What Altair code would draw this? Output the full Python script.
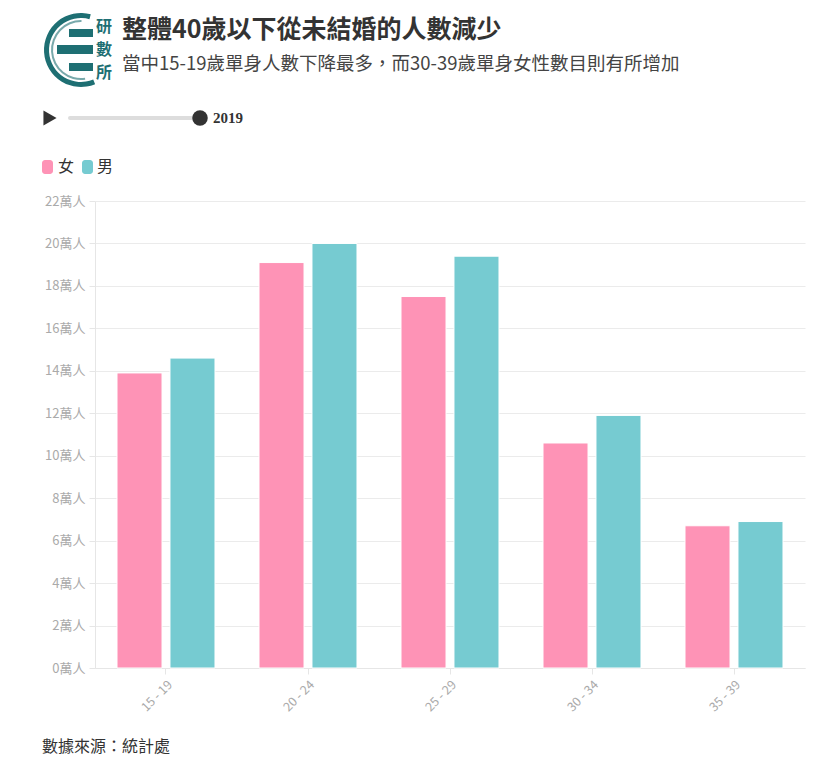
import altair as alt
import pandas as pd

ages = ["15 - 19", "20 - 24", "25 - 29", "30 - 34", "35 - 39"]
female = [13.9, 19.1, 17.5, 10.6, 6.7]
male = [14.6, 20.0, 19.4, 11.9, 6.9]
sexes = ["女", "男"]
colors = ["#fe93b6", "#76cbd1"]
y_ticks = list(range(0, 23, 2))

rows = []
for a, f, m in zip(ages, female, male):
    rows.append({"age": a, "sex": "女", "value": f})
    rows.append({"age": a, "sex": "男", "value": m})
df = pd.DataFrame(rows)

FONT = "Noto Sans CJK TC"
W, H = 710, 467

bars = alt.Chart(df).mark_bar(stroke="white", strokeWidth=1).encode(
    x=alt.X("age:N", sort=ages, title=None,
            scale=alt.Scale(paddingInner=0.31, paddingOuter=0.155),
            axis=alt.Axis(labelAngle=-45, labelColor="#aaaaaa", labelFontSize=12.5,
                          labelFont=FONT, tickColor="#e6e6e6", tickSize=6,
                          domainColor="#e6e6e6", labelPadding=4, grid=False)),
    xOffset=alt.XOffset("sex:N", sort=sexes,
                        scale=alt.Scale(paddingInner=0.15, paddingOuter=0)),
    y=alt.Y("value:Q", title=None,
            scale=alt.Scale(domain=[0, 22], nice=False),
            axis=alt.Axis(values=y_ticks, labelExpr="datum.value + '萬人'",
                          labelColor="#aaaaaa", labelFontSize=13, labelFont=FONT,
                          tickColor="#e6e6e6", tickSize=6, domainColor="#e6e6e6",
                          gridColor="#ebebeb", labelPadding=4)),
    color=alt.Color("sex:N", sort=sexes,
                    scale=alt.Scale(domain=sexes, range=colors), legend=None),
)

def txt(text, x, y, size, color="#333333", weight="normal", font=FONT, align="left"):
    return alt.Chart(pd.DataFrame({"t": [text]})).mark_text(
        align=align, baseline="middle", fontSize=size, fontWeight=weight,
        font=font, color=color
    ).encode(text="t:N", x=alt.value(x), y=alt.value(y))

title = txt("整體40歲以下從未結婚的人數減少", 27, -171, 25, "#333333", "bold")
subtitle = txt("當中15-19歲單身人數下降最多，而30-39歲單身女性數目則有所增加", 27, -137, 18.5, "#444444")
footer = txt("數據來源：統計處", -53, 546, 16, "#333333")
leg_f = txt("女", -37, -34, 16, "#333333")
leg_m = txt("男", 2, -34, 16, "#333333")
year = txt("2019", 118, -83, 15, "#333333", "bold", "Liberation Serif")

sw = pd.DataFrame({"k": [0]})
leg_sq_f = alt.Chart(sw).mark_rect(cornerRadius=3, color=colors[0]).encode(
    x=alt.value(-53), x2=alt.value(-42), y=alt.value(-41), y2=alt.value(-27))
leg_sq_m = alt.Chart(sw).mark_rect(cornerRadius=3, color=colors[1]).encode(
    x=alt.value(-13), x2=alt.value(-2), y=alt.value(-41), y2=alt.value(-27))

slider_line = alt.Chart(sw).mark_rule(color="#dddddd", strokeWidth=4, strokeCap="round").encode(
    x=alt.value(-25), x2=alt.value(105), y=alt.value(-83))
slider_knob = alt.Chart(sw).mark_point(shape="circle", filled=True, size=240, color="#333333", opacity=1).encode(
    x=alt.value(105), y=alt.value(-83))
play = alt.Chart(sw).mark_point(shape="triangle-right", filled=True, size=230, color="#333333", opacity=1).encode(
    x=alt.value(-45), y=alt.value(-83))

# logo approximation
LC = "#1e6f73"
logo_ring = alt.Chart(sw).mark_arc(radius=37, radius2=32, theta=2.75, theta2=6.55, color=LC).encode(
    x=alt.value(-14), y=alt.value(-151))
logo_ring2 = alt.Chart(sw).mark_arc(radius=30, radius2=28, theta=3.0, theta2=6.3, color=LC, opacity=0.6).encode(
    x=alt.value(-14), y=alt.value(-151))
logo_bars = alt.Chart(pd.DataFrame({"y1": [-172, -156, -138], "y2": [-164, -147, -130],
                                    "x1": [-26, -38, -26], "x2": [-2, -2, -2]})).mark_rect(color=LC).encode(
    x=alt.X("x1:Q", scale=None), x2="x2:Q", y=alt.Y("y1:Q", scale=None), y2="y2:Q")
logo_t1 = txt("研", 1, -174, 16, LC, "bold")
logo_t2 = txt("數", 1, -151, 16, LC, "bold")
logo_t3 = txt("所", 1, -128, 16, LC, "bold")

chart = alt.layer(
    bars, title, subtitle, footer, leg_sq_f, leg_sq_m, leg_f, leg_m,
    slider_line, slider_knob, play, year,
    logo_ring, logo_ring2, logo_bars, logo_t1, logo_t2, logo_t3
).properties(
    width=W, height=H,
    autosize=alt.AutoSizeParams(type="none"),
    padding={"left": 95, "top": 201, "right": 30, "bottom": 106},
    background="white",
).configure_view(stroke=None)

chart.save("out.html", embed_options={"renderer": "svg", "actions": False})
